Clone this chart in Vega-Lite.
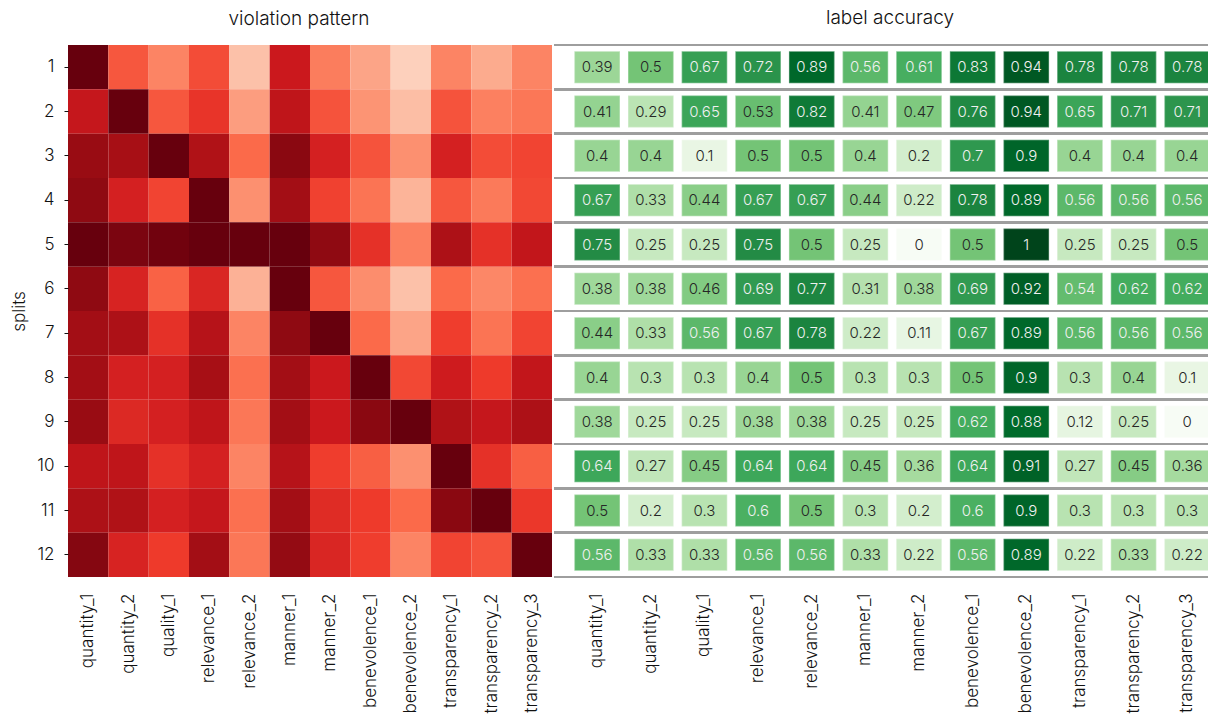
{
  "$schema": "https://vega.github.io/schema/vega-lite/v6.json",
  "autosize": {"type": "pad"},
  "padding": {"left": 10, "top": 8, "right": 0, "bottom": 0},
  "background": "white",
  "config": {
    "font": "Inter",
    "view": {"stroke": null},
    "concat": {"spacing": 0},
    "axis": {"labelColor": "#111111", "titleColor": "#111111", "domain": false, "grid": false, "labelFontWeight": 300, "titleFontWeight": 300}
  },
  "resolve": {"scale": {"color": "independent", "y": "independent", "x": "independent"}},
  "data": {"values": [
    {"split":1,"metric":"quantity_1","violation":1.0,"accuracy":0.39},
    {"split":1,"metric":"quantity_2","violation":0.55,"accuracy":0.5},
    {"split":1,"metric":"quality_1","violation":0.42,"accuracy":0.67},
    {"split":1,"metric":"relevance_1","violation":0.58,"accuracy":0.72},
    {"split":1,"metric":"relevance_2","violation":0.23,"accuracy":0.89},
    {"split":1,"metric":"manner_1","violation":0.75,"accuracy":0.56},
    {"split":1,"metric":"manner_2","violation":0.44,"accuracy":0.61},
    {"split":1,"metric":"benevolence_1","violation":0.32,"accuracy":0.83},
    {"split":1,"metric":"benevolence_2","violation":0.18,"accuracy":0.94},
    {"split":1,"metric":"transparency_1","violation":0.42,"accuracy":0.78},
    {"split":1,"metric":"transparency_2","violation":0.30,"accuracy":0.78},
    {"split":1,"metric":"transparency_3","violation":0.42,"accuracy":0.78},
    {"split":2,"metric":"quantity_1","violation":0.77,"accuracy":0.41},
    {"split":2,"metric":"quantity_2","violation":1.0,"accuracy":0.29},
    {"split":2,"metric":"quality_1","violation":0.55,"accuracy":0.65},
    {"split":2,"metric":"relevance_1","violation":0.65,"accuracy":0.53},
    {"split":2,"metric":"relevance_2","violation":0.34,"accuracy":0.82},
    {"split":2,"metric":"manner_1","violation":0.79,"accuracy":0.41},
    {"split":2,"metric":"manner_2","violation":0.56,"accuracy":0.47},
    {"split":2,"metric":"benevolence_1","violation":0.37,"accuracy":0.76},
    {"split":2,"metric":"benevolence_2","violation":0.24,"accuracy":0.94},
    {"split":2,"metric":"transparency_1","violation":0.56,"accuracy":0.65},
    {"split":2,"metric":"transparency_2","violation":0.43,"accuracy":0.71},
    {"split":2,"metric":"transparency_3","violation":0.46,"accuracy":0.71},
    {"split":3,"metric":"quantity_1","violation":0.90,"accuracy":0.4},
    {"split":3,"metric":"quantity_2","violation":0.87,"accuracy":0.4},
    {"split":3,"metric":"quality_1","violation":1.0,"accuracy":0.1},
    {"split":3,"metric":"relevance_1","violation":0.84,"accuracy":0.5},
    {"split":3,"metric":"relevance_2","violation":0.50,"accuracy":0.5},
    {"split":3,"metric":"manner_1","violation":0.93,"accuracy":0.4},
    {"split":3,"metric":"manner_2","violation":0.72,"accuracy":0.2},
    {"split":3,"metric":"benevolence_1","violation":0.56,"accuracy":0.7},
    {"split":3,"metric":"benevolence_2","violation":0.38,"accuracy":0.9},
    {"split":3,"metric":"transparency_1","violation":0.72,"accuracy":0.4},
    {"split":3,"metric":"transparency_2","violation":0.58,"accuracy":0.4},
    {"split":3,"metric":"transparency_3","violation":0.60,"accuracy":0.4},
    {"split":4,"metric":"quantity_1","violation":0.92,"accuracy":0.67},
    {"split":4,"metric":"quantity_2","violation":0.72,"accuracy":0.33},
    {"split":4,"metric":"quality_1","violation":0.60,"accuracy":0.44},
    {"split":4,"metric":"relevance_1","violation":1.0,"accuracy":0.67},
    {"split":4,"metric":"relevance_2","violation":0.38,"accuracy":0.67},
    {"split":4,"metric":"manner_1","violation":0.88,"accuracy":0.44},
    {"split":4,"metric":"manner_2","violation":0.61,"accuracy":0.22},
    {"split":4,"metric":"benevolence_1","violation":0.47,"accuracy":0.78},
    {"split":4,"metric":"benevolence_2","violation":0.27,"accuracy":0.89},
    {"split":4,"metric":"transparency_1","violation":0.55,"accuracy":0.56},
    {"split":4,"metric":"transparency_2","violation":0.45,"accuracy":0.56},
    {"split":4,"metric":"transparency_3","violation":0.59,"accuracy":0.56},
    {"split":5,"metric":"quantity_1","violation":1.0,"accuracy":0.75},
    {"split":5,"metric":"quantity_2","violation":0.96,"accuracy":0.25},
    {"split":5,"metric":"quality_1","violation":0.98,"accuracy":0.25},
    {"split":5,"metric":"relevance_1","violation":1.0,"accuracy":0.75},
    {"split":5,"metric":"relevance_2","violation":1.0,"accuracy":0.5},
    {"split":5,"metric":"manner_1","violation":1.0,"accuracy":0.25},
    {"split":5,"metric":"manner_2","violation":0.92,"accuracy":0},
    {"split":5,"metric":"benevolence_1","violation":0.66,"accuracy":0.5},
    {"split":5,"metric":"benevolence_2","violation":0.43,"accuracy":1},
    {"split":5,"metric":"transparency_1","violation":0.85,"accuracy":0.25},
    {"split":5,"metric":"transparency_2","violation":0.66,"accuracy":0.25},
    {"split":5,"metric":"transparency_3","violation":0.78,"accuracy":0.5},
    {"split":6,"metric":"quantity_1","violation":0.92,"accuracy":0.38},
    {"split":6,"metric":"quantity_2","violation":0.71,"accuracy":0.38},
    {"split":6,"metric":"quality_1","violation":0.52,"accuracy":0.46},
    {"split":6,"metric":"relevance_1","violation":0.70,"accuracy":0.69},
    {"split":6,"metric":"relevance_2","violation":0.28,"accuracy":0.77},
    {"split":6,"metric":"manner_1","violation":1.0,"accuracy":0.31},
    {"split":6,"metric":"manner_2","violation":0.55,"accuracy":0.38},
    {"split":6,"metric":"benevolence_1","violation":0.39,"accuracy":0.69},
    {"split":6,"metric":"benevolence_2","violation":0.23,"accuracy":0.92},
    {"split":6,"metric":"transparency_1","violation":0.50,"accuracy":0.54},
    {"split":6,"metric":"transparency_2","violation":0.41,"accuracy":0.62},
    {"split":6,"metric":"transparency_3","violation":0.48,"accuracy":0.62},
    {"split":7,"metric":"quantity_1","violation":0.88,"accuracy":0.44},
    {"split":7,"metric":"quantity_2","violation":0.85,"accuracy":0.33},
    {"split":7,"metric":"quality_1","violation":0.66,"accuracy":0.56},
    {"split":7,"metric":"relevance_1","violation":0.82,"accuracy":0.67},
    {"split":7,"metric":"relevance_2","violation":0.42,"accuracy":0.78},
    {"split":7,"metric":"manner_1","violation":0.92,"accuracy":0.22},
    {"split":7,"metric":"manner_2","violation":1.0,"accuracy":0.11},
    {"split":7,"metric":"benevolence_1","violation":0.50,"accuracy":0.67},
    {"split":7,"metric":"benevolence_2","violation":0.32,"accuracy":0.89},
    {"split":7,"metric":"transparency_1","violation":0.62,"accuracy":0.56},
    {"split":7,"metric":"transparency_2","violation":0.47,"accuracy":0.56},
    {"split":7,"metric":"transparency_3","violation":0.60,"accuracy":0.56},
    {"split":8,"metric":"quantity_1","violation":0.88,"accuracy":0.4},
    {"split":8,"metric":"quantity_2","violation":0.72,"accuracy":0.3},
    {"split":8,"metric":"quality_1","violation":0.72,"accuracy":0.3},
    {"split":8,"metric":"relevance_1","violation":0.87,"accuracy":0.4},
    {"split":8,"metric":"relevance_2","violation":0.48,"accuracy":0.5},
    {"split":8,"metric":"manner_1","violation":0.88,"accuracy":0.3},
    {"split":8,"metric":"manner_2","violation":0.75,"accuracy":0.3},
    {"split":8,"metric":"benevolence_1","violation":1.0,"accuracy":0.5},
    {"split":8,"metric":"benevolence_2","violation":0.59,"accuracy":0.9},
    {"split":8,"metric":"transparency_1","violation":0.74,"accuracy":0.3},
    {"split":8,"metric":"transparency_2","violation":0.63,"accuracy":0.4},
    {"split":8,"metric":"transparency_3","violation":0.78,"accuracy":0.1},
    {"split":9,"metric":"quantity_1","violation":0.90,"accuracy":0.38},
    {"split":9,"metric":"quantity_2","violation":0.69,"accuracy":0.25},
    {"split":9,"metric":"quality_1","violation":0.72,"accuracy":0.25},
    {"split":9,"metric":"relevance_1","violation":0.79,"accuracy":0.38},
    {"split":9,"metric":"relevance_2","violation":0.46,"accuracy":0.38},
    {"split":9,"metric":"manner_1","violation":0.88,"accuracy":0.25},
    {"split":9,"metric":"manner_2","violation":0.75,"accuracy":0.25},
    {"split":9,"metric":"benevolence_1","violation":0.93,"accuracy":0.62},
    {"split":9,"metric":"benevolence_2","violation":1.0,"accuracy":0.88},
    {"split":9,"metric":"transparency_1","violation":0.84,"accuracy":0.12},
    {"split":9,"metric":"transparency_2","violation":0.77,"accuracy":0.25},
    {"split":9,"metric":"transparency_3","violation":0.85,"accuracy":0},
    {"split":10,"metric":"quantity_1","violation":0.79,"accuracy":0.64},
    {"split":10,"metric":"quantity_2","violation":0.79,"accuracy":0.27},
    {"split":10,"metric":"quality_1","violation":0.66,"accuracy":0.45},
    {"split":10,"metric":"relevance_1","violation":0.72,"accuracy":0.64},
    {"split":10,"metric":"relevance_2","violation":0.42,"accuracy":0.64},
    {"split":10,"metric":"manner_1","violation":0.82,"accuracy":0.45},
    {"split":10,"metric":"manner_2","violation":0.62,"accuracy":0.36},
    {"split":10,"metric":"benevolence_1","violation":0.53,"accuracy":0.64},
    {"split":10,"metric":"benevolence_2","violation":0.38,"accuracy":0.91},
    {"split":10,"metric":"transparency_1","violation":1.0,"accuracy":0.27},
    {"split":10,"metric":"transparency_2","violation":0.66,"accuracy":0.45},
    {"split":10,"metric":"transparency_3","violation":0.53,"accuracy":0.36},
    {"split":11,"metric":"quantity_1","violation":0.85,"accuracy":0.5},
    {"split":11,"metric":"quantity_2","violation":0.84,"accuracy":0.2},
    {"split":11,"metric":"quality_1","violation":0.72,"accuracy":0.3},
    {"split":11,"metric":"relevance_1","violation":0.77,"accuracy":0.6},
    {"split":11,"metric":"relevance_2","violation":0.48,"accuracy":0.5},
    {"split":11,"metric":"manner_1","violation":0.88,"accuracy":0.3},
    {"split":11,"metric":"manner_2","violation":0.68,"accuracy":0.2},
    {"split":11,"metric":"benevolence_1","violation":0.63,"accuracy":0.6},
    {"split":11,"metric":"benevolence_2","violation":0.50,"accuracy":0.9},
    {"split":11,"metric":"transparency_1","violation":0.93,"accuracy":0.3},
    {"split":11,"metric":"transparency_2","violation":1.0,"accuracy":0.3},
    {"split":11,"metric":"transparency_3","violation":0.64,"accuracy":0.3},
    {"split":12,"metric":"quantity_1","violation":0.94,"accuracy":0.56},
    {"split":12,"metric":"quantity_2","violation":0.71,"accuracy":0.33},
    {"split":12,"metric":"quality_1","violation":0.63,"accuracy":0.33},
    {"split":12,"metric":"relevance_1","violation":0.88,"accuracy":0.56},
    {"split":12,"metric":"relevance_2","violation":0.46,"accuracy":0.56},
    {"split":12,"metric":"manner_1","violation":0.91,"accuracy":0.33},
    {"split":12,"metric":"manner_2","violation":0.70,"accuracy":0.22},
    {"split":12,"metric":"benevolence_1","violation":0.62,"accuracy":0.56},
    {"split":12,"metric":"benevolence_2","violation":0.42,"accuracy":0.89},
    {"split":12,"metric":"transparency_1","violation":0.60,"accuracy":0.22},
    {"split":12,"metric":"transparency_2","violation":0.56,"accuracy":0.33},
    {"split":12,"metric":"transparency_3","violation":1.0,"accuracy":0.22}
  ]},
  "hconcat": [
    {
      "width": 484,
      "height": 532,
      "title": {"text": "violation pattern", "fontSize": 19, "fontWeight": 300, "anchor": "middle", "offset": 16, "dx": -11, "color": "#111111"},
      "mark": {"type": "rect"},
      "encoding": {
        "x": {"field": "metric", "type": "nominal", "sort": null,
              "scale": {"paddingInner": 0, "paddingOuter": 0},
              "axis": {"title": null, "ticks": false, "labelAngle": -90, "labelPadding": 16, "labelFontSize": 17, "labelLimit": 200}},
        "y": {"field": "split", "type": "ordinal",
              "scale": {"paddingInner": 0, "paddingOuter": 0},
              "axis": {"title": "splits", "titleFontSize": 17, "titlePadding": 8, "ticks": true, "tickSize": 4, "tickColor": "#111111", "labelPadding": 10, "labelFontSize": 17, "labelAngle": 0}},
        "color": {"field": "violation", "type": "quantitative",
                  "scale": {"type": "linear", "domain": [0, 0.125, 0.25, 0.375, 0.5, 0.625, 0.75, 0.875, 1], "range": ["#fff5f0","#fee0d2","#fcbba1","#fc9272","#fb6a4a","#ef3b2c","#cb181d","#a50f15","#67000d"], "interpolate": "rgb"},
                  "legend": null}
      }
    },
    {
      "width": 656,
      "height": 532,
      "title": {"text": "label accuracy", "fontSize": 19, "fontWeight": 300, "anchor": "middle", "offset": 16, "dx": 8, "color": "#111111"},
      "resolve": {"scale": {"y": "independent"}},
      "layer": [
        {
          "mark": {"type": "rect", "stroke": "#ffffff", "strokeWidth": 1.5, "strokeOpacity": 0.3},
          "encoding": {
            "x": {"field": "metric", "type": "nominal", "sort": null,
                  "scale": {"type": "band", "paddingInner": 0.15, "paddingOuter": 0.19, "align": 1},
                  "axis": {"title": null, "ticks": false, "labelAngle": -90, "labelPadding": 16, "labelFontSize": 17, "labelLimit": 200}},
            "y": {"field": "split", "type": "ordinal", "scale": {"type": "band", "paddingInner": 0.28, "paddingOuter": 0.14}, "axis": null},
            "color": {"field": "accuracy", "type": "quantitative",
                      "scale": {"type": "linear", "domain": [0, 0.125, 0.25, 0.375, 0.5, 0.625, 0.75, 0.875, 1], "range": ["#f7fcf5","#e5f5e0","#c7e9c0","#a1d99b","#74c476","#41ab5d","#238b45","#006d2c","#00441b"], "interpolate": "rgb"},
                      "legend": null}
          }
        },
        {
          "mark": {"type": "text", "fontSize": 15, "fontWeight": 300},
          "encoding": {
            "x": {"field": "metric", "type": "nominal", "sort": null},
            "y": {"field": "split", "type": "ordinal", "scale": {"type": "band", "paddingInner": 0, "paddingOuter": 0}, "axis": null},
            "text": {"field": "accuracy", "type": "quantitative"},
            "color": {"condition": {"test": "datum.accuracy > 0.535", "value": "#f0f0f0"}, "value": "#262626"}
          }
        },
        {
          "mark": {"type": "rule", "color": "#9e9e9e", "strokeWidth": 2.2},
          "encoding": {
            "y": {"field": "split", "type": "ordinal", "bandPosition": 0, "scale": {"type": "band", "paddingInner": 0, "paddingOuter": 0}, "axis": null}
          }
        },
        {
          "transform": [{"filter": "datum.split == 12"}],
          "mark": {"type": "rule", "color": "#9e9e9e", "strokeWidth": 2.2},
          "encoding": {
            "y": {"field": "split", "type": "ordinal", "bandPosition": 1, "scale": {"type": "band", "paddingInner": 0, "paddingOuter": 0, "domain": [1,2,3,4,5,6,7,8,9,10,11,12]}, "axis": null}
          }
        }
      ]
    }
  ]
}
